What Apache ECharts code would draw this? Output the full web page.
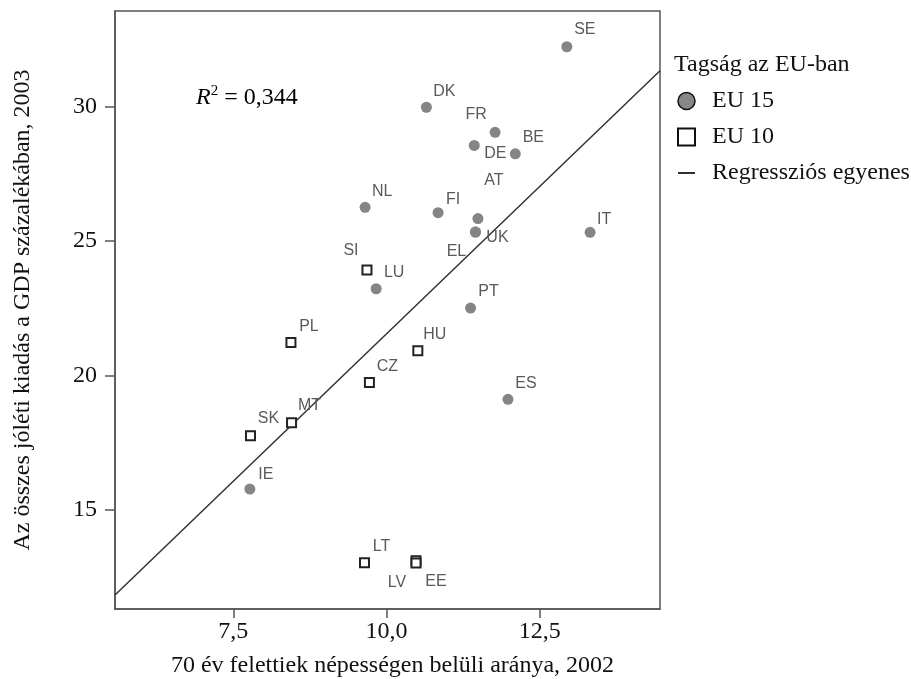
<!DOCTYPE html>
<html><head><meta charset="utf-8">
<script src="https://cdn.jsdelivr.net/npm/echarts@6/dist/echarts.min.js"></script>
<style>html,body{margin:0;padding:0;background:#fff}#c{width:911px;height:679px}</style>
</head><body><div id="c"></div>
<script>
// ---- data ----
const eu15Codes = ['SE','DK','FR','DE','BE','NL','FI','AT','UK','EL','IT','LU','PT','ES','IE'];
const eu15X = [12.94,10.65,11.77,11.43,12.10,9.65,10.84,11.49,11.45,11.45,13.32,9.83,11.37,11.98,7.77];
const eu15Y = [32.23,29.98,29.05,28.56,28.25,26.26,26.06,25.84,25.34,25.34,25.33,23.23,22.51,19.12,15.78];
const eu10Codes = ['SI','PL','HU','CZ','MT','SK','LT','LV','EE'];
const eu10X = [9.68,8.44,10.51,9.72,8.45,7.78,9.64,10.48,10.48];
const eu10Y = [23.93,21.23,20.92,19.74,18.25,17.76,13.04,13.11,13.03];
const regX = [5.57,14.46];
const regY = [11.84,31.34];
const xTicks = [7.5,10,12.5];
const yTicks = [15,20,25,30];
const rSquared = '0,344';

// ---- label placement (style, not data) ----
const labelOffset = {
  SE:[18,-17], DK:[18,-16], FR:[-19,-18], DE:[21,8], BE:[18,-16], NL:[17,-16], FI:[15,-13],
  AT:[16,-38], UK:[22,6], EL:[-19,20], IT:[14,-13], SI:[-16,-19], LU:[18,-16], PT:[18,-17],
  PL:[18,-16], HU:[17,-16], CZ:[18,-16], ES:[18,-16], MT:[18,-17], SK:[18,-17], IE:[16,-14],
  LT:[17,-16], LV:[-19,22], EE:[20,19]
};
const serif = 'Liberation Serif';
const txt = {fontFamily: serif, fontSize: 24, color: '#111'};
const frame = {color: '#555', width: 1.5};

function build(codes, xs, ys) {
  return codes.map((c, i) => ({
    name: c, value: [xs[i], ys[i]],
    label: {offset: labelOffset[c]}
  }));
}
const ptLabel = {
  show: true, position: 'inside', formatter: p => p.name,
  fontFamily: 'Liberation Sans', fontSize: 16, color: '#5a5a5a'
};

const chart = echarts.init(document.getElementById('c'));
chart.setOption({
  animation: false,
  backgroundColor: '#fff',
  grid: {left: 115, right: 251, top: 11, bottom: 70, show: true, borderColor: '#555', borderWidth: 1.5,
    containLabel: false, outerBoundsMode: 'none'},
  title: {text: 'Tagság az EU-ban', left: 674, top: 53, padding: 0,
    textStyle: {fontFamily: serif, fontSize: 24, fontWeight: 'normal', color: '#111'}},
  legend: {
    orient: 'vertical', left: 677, top: 89, padding: 0, itemWidth: 17, itemHeight: 17, itemGap: 12,
    symbolKeepAspect: true,
    textStyle: Object.assign({}, txt, {padding: [0, 0, 0, 12]}),
    data: [
      {name: 'EU 15', icon: 'circle', itemStyle: {color: '#888', borderColor: '#111', borderWidth: 1.5}},
      {name: 'EU 10', icon: 'rect', itemStyle: {color: '#fff', borderColor: '#111', borderWidth: 2}},
      {name: 'Regressziós egyenes', icon: 'path://M0,0H36V4H0Z', itemStyle: {color: '#222'}}
    ]
  },
  xAxis: {
    type: 'value', min: 5.57, max: 14.46,
    name: '70 év felettiek népességen belüli aránya, 2002',
    nameLocation: 'middle', nameGap: 45,
    nameTextStyle: Object.assign({}, txt, {padding: [0, 0, 0, 10]}),
    splitLine: {show: false},
    axisLine: {show: true, lineStyle: frame},
    axisTick: {show: true, customValues: xTicks, length: 9, lineStyle: frame},
    axisLabel: Object.assign({customValues: xTicks, margin: 11,
      formatter: v => v.toFixed(1).replace('.', ',')}, txt)
  },
  yAxis: {
    type: 'value', min: 11.32, max: 33.56,
    name: 'Az összes jóléti kiadás a GDP százalékában, 2003',
    nameLocation: 'middle', nameGap: 80, nameTextStyle: txt,
    splitLine: {show: false},
    axisLine: {show: true, lineStyle: frame},
    axisTick: {show: true, customValues: yTicks, length: 10, lineStyle: frame},
    axisLabel: Object.assign({customValues: yTicks, margin: 18, formatter: v => String(v)}, txt)
  },
  graphic: [{
    type: 'text', left: 196, top: 84,
    style: {
      text: '{i|R}{s|2}{n| = ' + rSquared + '}',
      rich: {
        i: {fontFamily: serif, fontStyle: 'italic', fontSize: 24, color: '#111'},
        s: {fontFamily: serif, fontSize: 15, color: '#111', padding: [0, 0, 12, 0]},
        n: {fontFamily: serif, fontSize: 24, color: '#111'}
      }
    }
  }],
  series: [
    {name: 'Regressziós egyenes', type: 'line', z: 1, symbol: 'none', showSymbol: false,
      lineStyle: {color: '#333', width: 1.5}, itemStyle: {color: '#333'},
      data: regX.map((x, i) => [x, regY[i]])},
    {name: 'EU 15', type: 'scatter', z: 3, symbol: 'circle', symbolSize: 11,
      itemStyle: {color: '#858585', opacity: 1}, label: ptLabel,
      data: build(eu15Codes, eu15X, eu15Y)},
    {name: 'EU 10', type: 'scatter', z: 3, symbol: 'rect', symbolSize: 9,
      itemStyle: {color: '#fff', borderColor: '#222', borderWidth: 2, opacity: 1}, label: ptLabel,
      data: build(eu10Codes, eu10X, eu10Y)}
  ]
});
</script></body></html>
